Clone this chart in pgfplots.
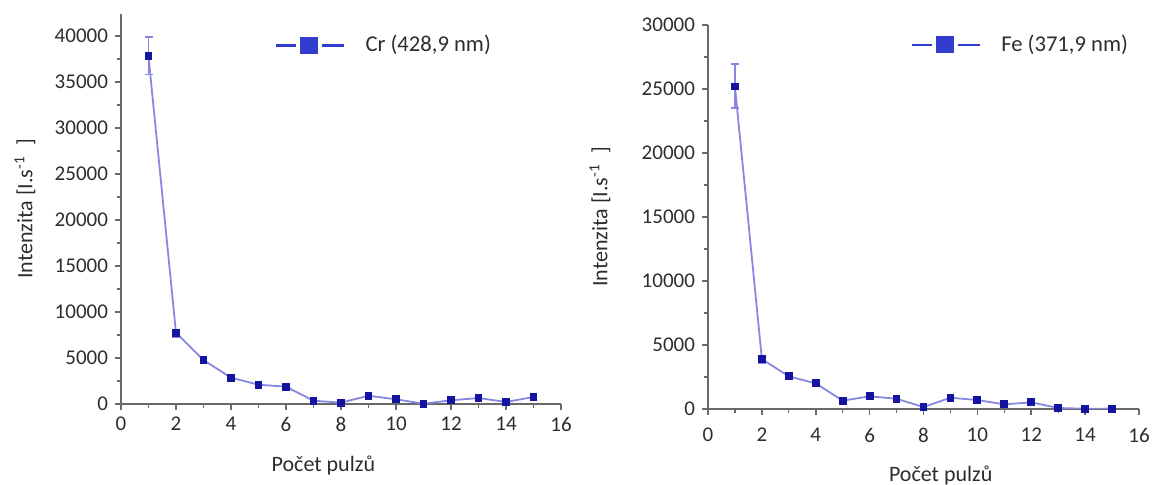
\documentclass[border=0pt]{standalone}
\usepackage{pgfplots}
\pgfplotsset{compat=1.18}
\usepackage{fontspec}
\setmainfont{Carlito}

\definecolor{lineblue}{RGB}{135,135,225}
\definecolor{markblue}{RGB}{20,20,160}
\definecolor{legblue}{RGB}{50,60,205}
\definecolor{axgray}{RGB}{105,105,105}
\definecolor{txtgray}{RGB}{45,45,45}

% Cr (428,9 nm)
\pgfplotstableread{
x y
1 37800
2 7750
3 4780
4 2860
5 2100
6 1880
7 360
8 140
9 900
10 510
11 30
12 400
13 650
14 220
15 760
}\crdata
\pgfplotstableread{
x y ep em
1 37800 2100 2000
2 7750 250 450
}\crerr

% Fe (371,9 nm)
\pgfplotstableread{
x y
1 25200
2 3900
3 2550
4 2000
5 650
6 990
7 800
8 150
9 880
10 700
11 360
12 520
13 80
14 20
15 30
}\fedata
\pgfplotstableread{
x y ep em
1 25200 1750 1700
2 3900 150 300
}\feerr

\pgfplotsset{
  pulz/.style={
    scale only axis,
    axis lines*=left,
    axis line style={axgray, line width=0.8pt},
    xmin=0, xmax=16, ymin=0,
    xtick distance=2, ytick distance=5000,
    minor x tick num=1, minor y tick num=1,
    tick align=outside,
    major tick length=3pt, minor tick length=2pt,
    every tick/.style={axgray, line width=0.8pt},
    every minor tick/.style={axgray, line width=0.6pt},
    scaled y ticks=false,
    /pgf/number format/1000 sep={},
    /pgf/number format/assume math mode=true,
    tick label style={font=\fontsize{10.5}{12}\selectfont, text=txtgray},
    label style={font=\fontsize{11}{13}\selectfont, text=txtgray},
    legend style={draw=none, fill=none, anchor=west,
      font=\fontsize{11.3}{13}\selectfont, text=txtgray,
      column sep=8pt},
    legend image code/.code={
      \draw[legblue, line width=1.4pt] (0pt,0pt) -- (10pt,0pt);
      \draw[legblue, line width=1.4pt] (23pt,0pt) -- (34pt,0pt);
      \fill[legblue] (12.5pt,-3.8pt) rectangle (20.5pt,3.8pt);
    },
  },
  dataline/.style={lineblue, line width=0.9pt, mark=square*,
    mark size=1.5pt, mark options={fill=markblue, draw=markblue}},
  errline/.style={draw=none, mark=none, forget plot,
    error bars/.cd, y dir=both, y explicit,
    error bar style={lineblue, line width=0.8pt},
    error mark options={rotate=90, lineblue, mark size=2pt, line width=0.8pt}},
}

\begin{document}
\begin{tikzpicture}
\useasboundingbox (0pt,0pt) rectangle (577pt,242.5pt);

\begin{axis}[pulz,
  at={(60.5pt,40.5pt)}, anchor=south west,
  width=220pt, height=195pt,
  ymax=42400,
  xlabel={Počet pulzů},
  ylabel={Intenzita [I.s\textsuperscript{-1}\ \ ]},
  xlabel style={at={([yshift=-30.5pt]axis description cs:0.46,0)}, anchor=center},
  ylabel style={at={([xshift=-48pt]axis description cs:0,0.5)}, anchor=center},
  legend style={at={(axis description cs:0.335,0.92)}},
]
\addplot[errline] table[x=x, y=y, y error plus=ep, y error minus=em] {\crerr};
\addplot[dataline] table[x=x, y=y] {\crdata};
\addlegendentry{Cr (428,9 nm)}
\end{axis}

\begin{axis}[pulz,
  at={(354pt,38pt)}, anchor=south west,
  width=215.5pt, height=192pt,
  ymax=30000,
  xlabel={Počet pulzů},
  ylabel={Intenzita [I.s\textsuperscript{-1}\ \ ]},
  xlabel style={at={([yshift=-33pt]axis description cs:0.54,0)}, anchor=center},
  ylabel style={at={([xshift=-54pt]axis description cs:0,0.5)}, anchor=center},
  xticklabel style={yshift=-3pt},
  legend style={at={(axis description cs:0.455,0.948)}},
]
\addplot[errline] table[x=x, y=y, y error plus=ep, y error minus=em] {\feerr};
\addplot[dataline] table[x=x, y=y] {\fedata};
\addlegendentry{Fe (371,9 nm)}
\end{axis}
\end{tikzpicture}
\end{document}
